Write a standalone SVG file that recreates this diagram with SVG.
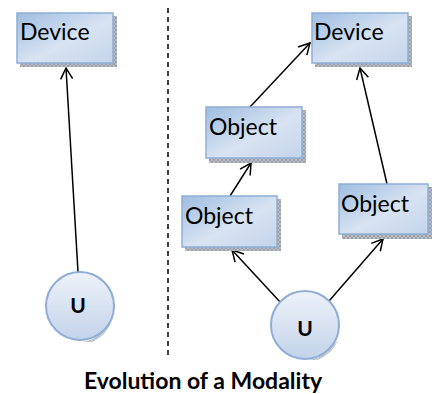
<svg xmlns="http://www.w3.org/2000/svg" width="432" height="394" viewBox="0 0 432 394">
<defs>
<linearGradient id="boxg" x1="0" y1="0" x2="1" y2="1">
<stop offset="0" stop-color="#9fbde0"/>
<stop offset="0.55" stop-color="#d7e3f2"/>
<stop offset="1" stop-color="#c3d4ea"/>
</linearGradient>
<linearGradient id="circg" x1="0" y1="0" x2="0" y2="1">
<stop offset="0" stop-color="#eef2f9"/>
<stop offset="1" stop-color="#c2d3ea"/>
</linearGradient>
<pattern id="hatch" width="4" height="4" patternUnits="userSpaceOnUse">
<rect width="4" height="4" fill="#9a9ea6"/>
<path d="M0 0L4 4M4 0L0 4" stroke="#c8ccd2" stroke-width="0.7"/>
</pattern>
<marker id="arr" markerWidth="14" markerHeight="14" refX="12" refY="7" orient="auto" markerUnits="userSpaceOnUse">
<path d="M1 1L12 7L1 13" fill="none" stroke="#000" stroke-width="1.5"/>
</marker>
</defs>
<style>
.shadow{fill:url(#hatch)}
.box{fill:url(#boxg);stroke:#8eaed6;stroke-width:1.5}
.circ{fill:url(#circg);stroke:#8eaed6;stroke-width:2}
.lbl{font-family:Lato,"Liberation Sans",sans-serif;font-size:23px;fill:#000}
.u{font-family:Lato,"Liberation Sans",sans-serif;font-weight:bold;font-size:21px;fill:#000;text-anchor:middle}
.edge{stroke:#000;stroke-width:1.5;fill:none;marker-end:url(#arr)}
.title{font-family:Lato,"Liberation Sans",sans-serif;font-weight:bold;font-size:23px;fill:#000;text-anchor:middle}
</style>
<g id="connectors">
<line class="edge" x1="78" y1="272" x2="66" y2="68"/>
<line class="edge" x1="250" y1="107" x2="310" y2="43"/>
<line class="edge" x1="387" y1="184" x2="360" y2="68"/>
<line class="edge" x1="230" y1="196" x2="251" y2="163"/>
<line class="edge" x1="281" y1="303" x2="232" y2="250"/>
<line class="edge" x1="329" y1="301" x2="383" y2="239"/>
<line x1="168" y1="8" x2="168" y2="356" stroke="#000" stroke-width="1.5" stroke-dasharray="5,4"/>
</g>
<g id="device1">
<rect class="shadow" x="20" y="16" width="97" height="51"/>
<rect class="box" x="17" y="13" width="96" height="50"/>
<text class="lbl" x="20" y="40">Device</text>
</g>
<g id="u1">
<path class="shadow" d="M 107 325 A 34 34 0 0 1 82 342 L 92 342 A 34 34 0 0 0 112 320 Z" opacity="0.7"/>
<circle class="circ" cx="80" cy="306" r="34"/>
<text class="u" x="78" y="313">U</text>
</g>
<g id="device2">
<rect class="shadow" x="315" y="16" width="97" height="51"/>
<rect class="box" x="312" y="13" width="96" height="50"/>
<text class="lbl" x="314" y="40">Device</text>
</g>
<g id="object1">
<rect class="shadow" x="209" y="110" width="97" height="53"/>
<rect class="box" x="206" y="107" width="96" height="51"/>
<text class="lbl" x="209" y="135">Object</text>
</g>
<g id="object2">
<rect class="shadow" x="185" y="199" width="96" height="52"/>
<rect class="box" x="182" y="196" width="95" height="51"/>
<text class="lbl" x="185" y="224">Object</text>
</g>
<g id="object3">
<rect class="shadow" x="342" y="187" width="90" height="52"/>
<rect class="box" x="339" y="184" width="89" height="50"/>
<text class="lbl" x="341" y="212">Object</text>
</g>
<g id="u2">
<path class="shadow" d="M 332 346 A 34 34 0 0 1 307 360 L 317 360 A 34 34 0 0 0 338 340 Z" opacity="0.7"/>
<circle class="circ" cx="305" cy="325" r="34"/>
<text class="u" x="305" y="336">U</text>
</g>
<text class="title" x="203" y="389">Evolution of a Modality</text>
</svg>
